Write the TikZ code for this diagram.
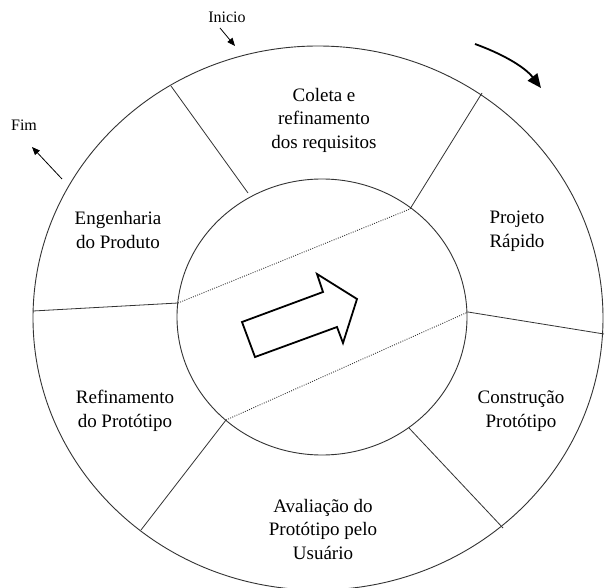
\documentclass[tikz,border=0pt]{standalone}
\usepackage{fontspec}
\setmainfont{Liberation Serif}
\usetikzlibrary{arrows.meta}
\begin{document}
\begin{tikzpicture}[x=1pt,y=-1pt,
  ring/.style={draw=black!80,line width=0.9pt},
  divider/.style={draw=black!80,line width=0.8pt},
  dotline/.style={draw=black!80,line width=0.9pt,dash pattern=on 0.9pt off 1.4pt},
  phase/.style={align=center,font=\fontsize{19}{23.5}\selectfont,inner sep=0pt},
  tag/.style={font=\fontsize{16}{19}\selectfont,inner sep=0pt},
  pointer/.style={draw=black,line width=0.8pt,-{Triangle[length=8pt,width=6.5pt]}},
  flow/.style={draw=black,line width=1.8pt,-{Triangle[length=14pt,width=12pt]}},
  blockarrow/.style={draw=black,line width=1.8pt,line join=miter,fill=white}]
\useasboundingbox (0,0) rectangle (605,588);
\fill[white] (0,0) rectangle (605,588);

% the two rings
\draw[ring] (318,318) ellipse [x radius=285pt, y radius=272pt];
\draw[ring] (322,317) ellipse [x radius=145pt, y radius=138pt];

% points where the dividers meet the rings
\coordinate (o1) at (171,86);   \coordinate (i1) at (248,193);
\coordinate (o2) at (482,93);   \coordinate (i2) at (410,209);
\coordinate (o3) at (33,311);   \coordinate (i3) at (178,303);
\coordinate (o4) at (604,334);  \coordinate (i4) at (468,312);
\coordinate (o5) at (141,530);  \coordinate (i5) at (226,420);
\coordinate (o6) at (503,528);  \coordinate (i6) at (409,428);

% sector dividers
\draw[divider] (o1) -- (i1);
\draw[divider] (o2) -- (i2);
\draw[divider] (o3) -- (i3);
\draw[divider] (o4) -- (i4);
\draw[divider] (o5) -- (i5);
\draw[divider] (o6) -- (i6);

% dotted band across the hub
\draw[dotline] (i3) -- (i2);
\draw[dotline] (i5) -- (i4);

% block arrow in the hub
\draw[blockarrow] (242,322) -- (323,292) -- (317,274) -- (357,299)
  -- (343,343) -- (337,327) -- (255,357) -- cycle;

% phase labels
\node[phase] (coleta) at (324,120) {Coleta e\\refinamento\\dos requisitos};
\node[phase] (projeto) at (517,231) {Projeto\\Rápido};
\node[phase] (construcao) at (521,411) {Construção\\Protótipo};
\node[phase] (avaliacao) at (323,529) {Avaliação do\\Protótipo pelo\\Usuário};
\node[phase] (refino) at (125,411) {Refinamento\\do Protótipo};
\node[phase] (engenharia) at (118,230) {Engenharia\\do Produto};

% start and end markers
\node[tag] (inicio) at (227,17) {Inicio};
\coordinate (inicioTip) at (235,46);
\draw[pointer] (220,28) -- (inicioTip);
\node[tag] (fim) at (24,125) {Fim};
\coordinate (fimFoot) at (62,179);
\coordinate (fimTip) at (32,147);
\draw[pointer] (fimFoot) -- (fimTip);

% direction of the cycle
\coordinate (dirA) at (475,44);
\coordinate (dirB) at (541,88);
\draw[flow] (dirA) .. controls (500,53) and (524,66) .. (dirB);
\end{tikzpicture}
\end{document}
